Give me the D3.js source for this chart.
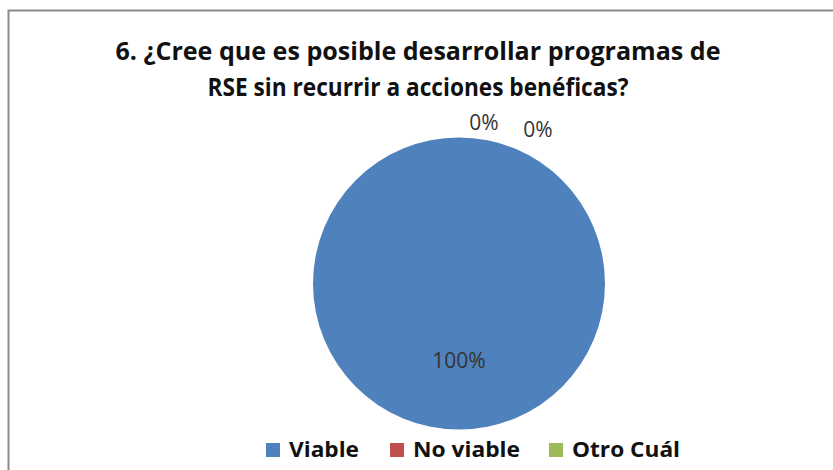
<!DOCTYPE html>
<html>
<head>
<meta charset="utf-8">
<script src="https://cdn.jsdelivr.net/npm/d3@7/dist/d3.min.js"></script>
<style>
  html, body { margin: 0; padding: 0; background: #fff; }
  svg { display: block; }
</style>
</head>
<body>
<svg id="chart" width="833" height="470"></svg>
<script>
// Survey answers for question 6
const categories = ["Viable", "No viable", "Otro Cuál"];
const values = [100, 0, 0];
const colors = ["#4F81BD", "#C0504D", "#9BBB59"];
const titleLines = [
  "6. ¿Cree que es posible desarrollar programas de",
  "RSE sin recurrir a acciones benéficas?"
];

const W = 833, H = 470;
const svg = d3.select("#chart");
const font = "'Open Sans', 'DejaVu Sans', sans-serif";

// chart frame
svg.append("rect")
  .attr("x", 8.5).attr("y", 10.5)
  .attr("width", W + 20).attr("height", H + 20)
  .attr("fill", "#fff")
  .attr("stroke", "#8a8a8a").attr("stroke-width", 2);

// title, each line fitted to its width
const titleWidths = [605, 421];
const titleBase = [60, 96];
titleLines.forEach((t, i) => {
  svg.append("text")
    .attr("x", 418).attr("y", titleBase[i])
    .attr("text-anchor", "middle")
    .attr("font-family", font)
    .attr("font-weight", "bold")
    .attr("font-size", 25)
    .attr("fill", "#111")
    .attr("textLength", titleWidths[i])
    .attr("lengthAdjust", "spacingAndGlyphs")
    .text(t);
});

// pie
const cx = 459, cy = 283.5, r = 146;
const pie = d3.pie().sort(null).value(d => d)(values);
const arc = d3.arc().innerRadius(0).outerRadius(r);
const g = svg.append("g").attr("transform", `translate(${cx},${cy})`);

g.selectAll("path.slice")
  .data(pie)
  .join("path")
  .attr("class", "slice")
  .attr("d", arc)
  .attr("fill", (d, i) => colors[i]);

// data labels
const fmt = v => d3.format(".0%")(v / d3.sum(values));
const outerArc = d3.arc().innerRadius(r + 7.5).outerRadius(r + 7.5);
const zeroShift = [[0, 0], [25, 0], [79, 7]];

g.selectAll("text.lbl")
  .data(pie)
  .join("text")
  .attr("class", "lbl")
  .attr("font-family", font)
  .attr("font-size", 21)
  .attr("fill", "#333")
  .attr("text-anchor", "middle")
  .attr("transform", (d, i) => {
    if (d.value > 0) {
      // full slice: label sits low inside the pie
      return `translate(0,${0.58 * r})`;
    }
    const [x, y] = outerArc.centroid(d);
    return `translate(${x + zeroShift[i][0]},${y + zeroShift[i][1]})`;
  })
  .text(d => fmt(d.value));

// legend
const legendX = [266, 390, 549];
const legendW = [70, 107, 108];
const leg = svg.append("g");
categories.forEach((c, i) => {
  leg.append("rect")
    .attr("x", legendX[i]).attr("y", 443)
    .attr("width", 14).attr("height", 14)
    .attr("fill", colors[i]);
  leg.append("text")
    .attr("x", legendX[i] + 23).attr("y", 457)
    .attr("font-family", font)
    .attr("font-weight", "bold")
    .attr("font-size", 22)
    .attr("fill", "#111")
    .attr("textLength", legendW[i])
    .attr("lengthAdjust", "spacingAndGlyphs")
    .text(c);
});
</script>
</body>
</html>
